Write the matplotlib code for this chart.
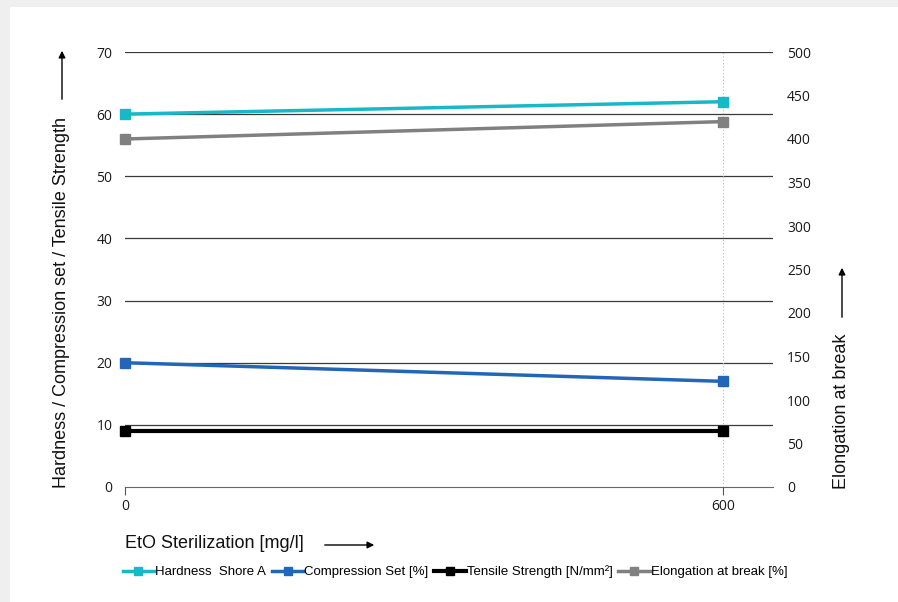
import matplotlib as mpl
mpl.use('Agg')
import matplotlib.pyplot as plt
from matplotlib.patches import Rectangle

# data
eto = [0, 600]
hardness = [60, 62]
compression = [20, 17]
tensile = [9, 9]
elongation = [400, 420]

left_ticks = [0, 10, 20, 30, 40, 50, 60, 70]
right_ticks = [0, 50, 100, 150, 200, 250, 300, 350, 400, 450, 500]

fig = plt.figure(figsize=(8.98, 6.02), dpi=100)
fig.patch.set_facecolor('#efefef')
fig.patches.append(Rectangle((10 / 898, 0), 1, 1 - 7 / 602, transform=fig.transFigure,
                             facecolor='white', edgecolor='none', zorder=-10))

ax = fig.add_axes([125 / 898, 1 - 487 / 602, 648 / 898, 435 / 602])
ax.set_facecolor('none')
ax2 = ax.twinx()

tickfont = {'family': 'Open Sans', 'size': 10, 'color': '#1a1a1a'}

ax.set_xlim(0, 650)
ax.set_ylim(0, 70)
ax2.set_ylim(0, 500)
ax.set_yticks(left_ticks)
ax2.set_yticks(right_ticks)
ax.set_xticks(eto)
ax.set_yticklabels([str(t) for t in left_ticks], fontdict=tickfont)
ax2.set_yticklabels([str(t) for t in right_ticks], fontdict=tickfont)
ax.set_xticklabels([str(t) for t in eto], fontdict=tickfont)
ax.tick_params(axis='y', length=0, pad=9)
ax2.tick_params(axis='y', length=0, pad=10)
ax.tick_params(axis='x', length=6, width=0.8, color='#555555', pad=3)

for a in (ax, ax2):
    for s in a.spines.values():
        s.set_visible(False)
ax.spines['bottom'].set_visible(True)
ax.spines['bottom'].set_color('#666666')

for t in left_ticks[1:]:
    ax.axhline(t, color='#3a3a3a', lw=0.9, zorder=1)
ax.axvline(600, color='#bbbbbb', lw=0.8, ls=(0, (1, 2)), zorder=1)

ms = 6.5
ax.plot(eto, tensile, color='black', lw=3, marker='s', ms=ms, zorder=3, clip_on=False,
        label='Tensile Strength [N/mm²]')
ax.plot(eto, compression, color='#2366b8', lw=2.5, marker='s', ms=ms, zorder=3, clip_on=False,
        label='Compression Set [%]')
ax.plot(eto, hardness, color='#17b8c8', lw=2.5, marker='s', ms=ms, zorder=3, clip_on=False,
        label='Hardness  Shore A')
ax2.plot(eto, elongation, color='#808080', lw=2.5, marker='s', ms=ms, zorder=3, clip_on=False,
         label='Elongation at break [%]')

# axis labels with arrows
lab = {'family': 'Liberation Sans', 'size': 13, 'color': '#111111'}
fig.text(62 / 898, 1 - 303 / 602, 'Hardness / Compression set / Tensile Strength',
         rotation=90, ha='center', va='center', fontdict=lab)
fig.text(842 / 898, 1 - 411 / 602, 'Elongation at break',
         rotation=90, ha='center', va='center', fontdict=lab)
fig.text(125 / 898, 1 - 543 / 602, 'EtO Sterilization [mg/l]',
         ha='left', va='center', fontdict=lab)

arrow = dict(arrowstyle='-|>', color='black', lw=1, mutation_scale=10)
ax.annotate('', xy=(62 / 898, 1 - 48 / 602), xytext=(62 / 898, 1 - 102 / 602),
            xycoords='figure fraction', arrowprops=arrow)
ax.annotate('', xy=(842 / 898, 1 - 265 / 602), xytext=(842 / 898, 1 - 320 / 602),
            xycoords='figure fraction', arrowprops=arrow)
ax.annotate('', xy=(377 / 898, 1 - 545 / 602), xytext=(322 / 898, 1 - 545 / 602),
            xycoords='figure fraction', arrowprops=arrow)

h1, l1 = ax.get_legend_handles_labels()
h2, l2 = ax2.get_legend_handles_labels()
handles = [h1[2], h1[1], h1[0], h2[0]]
labels = [l1[2], l1[1], l1[0], l2[0]]
fig.legend(handles, labels, loc='center', bbox_to_anchor=(455 / 898, 1 - 572 / 602),
           ncol=4, frameon=False, handlelength=2.4, handletextpad=0.05,
           columnspacing=0.45, markerscale=0.9,
           prop={'family': 'Liberation Sans', 'size': 9.5})

fig.savefig('out.png', dpi=100)
